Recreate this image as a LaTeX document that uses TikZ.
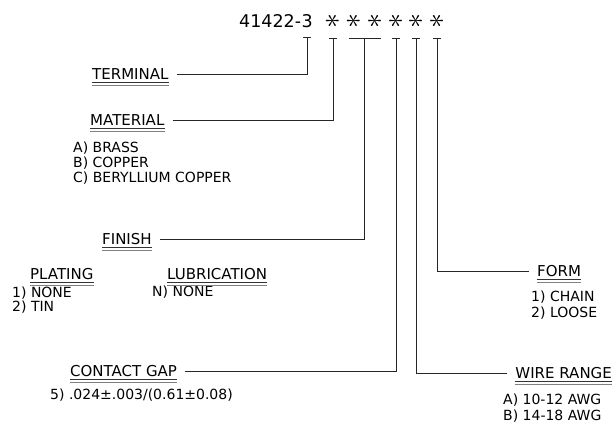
\documentclass[tikz,border=0pt]{standalone}
\usepackage{fontspec}
\setmainfont{DejaVu Sans}
\usetikzlibrary{positioning,calc}
\tikzset{
  hd/.style={inner sep=0pt, anchor=base west, font=\fontsize{15}{15}\selectfont},
  it/.style={inner sep=0pt, anchor=base west, font=\fontsize{14}{14}\selectfont},
  cd/.style={inner sep=0pt, anchor=base west, font=\fontsize{17.5}{17.5}\selectfont},
  ast/.style={inner sep=0pt, rotate=90, scale=1.45, font=\fontsize{20.74}{20}\selectfont},
  ln/.style={line width=0.9pt, black!85},
  lk/.style={ln, shorten <=8pt},
}

\begin{document}
\begin{tikzpicture}[x=1pt,y=-1pt]
  \useasboundingbox (0,0) rectangle (616,427);
  % part number
  \node[cd] (code) at (239,28) {41422-};
  \node[cd] (d3) at (code.base east) {3};
  \foreach \x [count=\i] in {333,354,375,396,416,437}
    \node[ast] (s\i) at (\x,21) {$\ast$};
  \coordinate (t1) at ([yshift=-16pt]d3.center);
  \coordinate (t2) at ([yshift=-17pt]s1);
  \coordinate (t3) at ($(s2)!0.5!(s3)+(0,-17pt)$);
  \coordinate (t4) at ([yshift=-17pt]s4);
  \coordinate (t5) at ([yshift=-17pt]s5);
  \coordinate (t6) at ([yshift=-17pt]s6);
  \foreach \n/\w in {t1/4, t2/4, t3/16, t4/4, t5/4, t6/4}
    \draw[ln] ([xshift=-\w pt]\n) -- ([xshift=\w pt]\n);

  % headings and options
  \node[hd] (term) at (92,80) {TERMINAL};
  \node[hd] (mat) at (90,126) {MATERIAL};
  \node[it] (ma) at (73,153) {A) BRASS};
  \node[it] (mb) at ([yshift=-15pt]ma.base west) {B) COPPER};
  \node[it] (mc) at ([yshift=-15pt]mb.base west) {C) BERYLLIUM COPPER};
  \node[hd] (fin) at (102,245) {FINISH};
  \node[hd] (plat) at (30,280) {PLATING};
  \node[hd] (lub) at (167,280) {LUBRICATION};
  \node[it] (pa) at (12,298) {1) NONE};
  \node[it] (pb) at ([yshift=-14pt]pa.base west) {2) TIN};
  \node[it] (la) at (152,297) {N) NONE};
  \node[hd] (gap) at (70,377) {CONTACT GAP};
  \node[it] (ga) at (50,400) {5) .024±.003/(0.61±0.08)};
  \node[hd] (form) at (537,277) {FORM};
  \node[it] (fa) at (531,302) {1) CHAIN};
  \node[it] (fb) at ([yshift=-16pt]fa.base west) {2) LOOSE};
  \node[hd, anchor=base east] (wire) at (612,379) {WIRE RANGE};
  \node[it] (wa) at (503,405) {A) 10-12 AWG};
  \node[it] (wb) at ([yshift=-16pt]wa.base west) {B) 14-18 AWG};

  \foreach \n in {term,mat,fin,plat,lub,gap,form,wire} {
    \draw[line width=1.3pt, black!80] ([yshift=-2.5pt]\n.base west) -- ([yshift=-2.5pt]\n.base east);
    \draw[line width=0.7pt, black!50] ([yshift=-5pt]\n.base west) -- ([yshift=-5pt]\n.base east);
  }

  \draw[lk] (term) -| (t1);
  \draw[lk] (mat) -| (t2);
  \draw[lk] (fin) -| (t3);
  \draw[lk] (gap) -| (t4);
  \draw[lk] (wire) -| (t5);
  \draw[lk] (form) -| (t6);
\end{tikzpicture}
\end{document}
